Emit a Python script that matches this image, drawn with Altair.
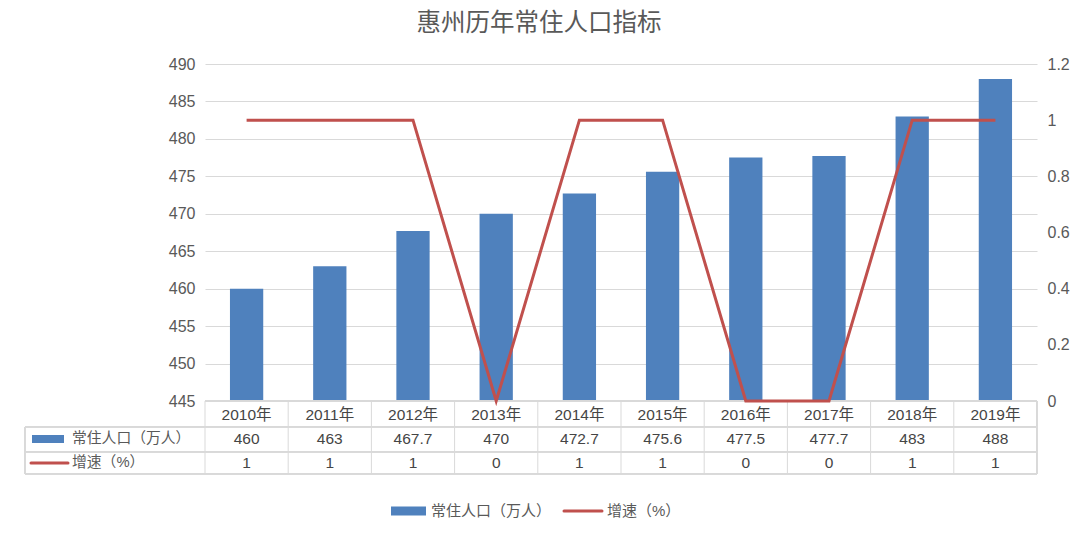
import altair as alt
import pandas as pd

# ---------------- data ----------------
years = ["2010年", "2011年", "2012年", "2013年", "2014年",
         "2015年", "2016年", "2017年", "2018年", "2019年"]
population = [460, 463, 467.7, 470, 472.7, 475.6, 477.5, 477.7, 483, 488]
growth = [1, 1, 1, 0, 1, 1, 0, 0, 1, 1]
series_names = ["常住人口（万人）", "增速（%）"]
row_names = ["年份", "常住人口（万人）", "增速（%）"]
left_ticks = [445, 450, 455, 460, 465, 470, 475, 480, 485, 490]
right_ticks = [0, 0.2, 0.4, 0.6, 0.8, 1.0, 1.2]
title_text = "惠州历年常住人口指标"

# ---------------- styles ----------------
BLUE = "#4F81BD"
RED = "#C0504D"
GRID = "#D9D9D9"
TXT = "#595959"
CELL_TXT = "#454545"
FONT = "Liberation Sans, Noto Sans CJK SC, sans-serif"
W, H = 832, 337

df = pd.DataFrame({"year": years, "pop": population, "growth": growth})

cells = []
for i, yr in enumerate(years):
    cells.append({"year": yr, "row": row_names[0], "text": yr})
    cells.append({"year": yr, "row": row_names[1], "text": f"{population[i]:g}"})
    cells.append({"year": yr, "row": row_names[2], "text": f"{growth[i]:g}"})
cells_df = pd.DataFrame(cells)
labels_df = pd.DataFrame({"row": row_names[1:]})

x_enc = alt.X("year:N", sort=years,
              scale=alt.Scale(paddingInner=0, paddingOuter=0), axis=None)
row_scale = alt.Scale(domain=row_names, type="point", padding=0, range=[351, 399])
row_y = alt.Y("row:N", scale=row_scale, axis=None)

bars = alt.Chart(df).mark_bar(color=BLUE, width=alt.RelativeBandSize(0.4)).encode(
    x=x_enc,
    y=alt.Y("pop:Q",
            scale=alt.Scale(domain=[445, 490], zero=False, nice=False),
            axis=alt.Axis(values=left_ticks, grid=True, gridColor=GRID,
                          domain=False, ticks=False, labelPadding=10,
                          labelFontSize=16, labelColor=TXT, labelFont=FONT,
                          title=None)),
    y2=alt.datum(445),
)

line = alt.Chart(df).mark_line(color=RED, strokeWidth=3).encode(
    x=x_enc,
    y=alt.Y("growth:Q",
            scale=alt.Scale(domain=[0, 1.2], nice=False),
            axis=alt.Axis(orient="right", values=right_ticks, format="~g",
                          grid=False, domain=False, ticks=False, labelPadding=10,
                          labelFontSize=16, labelColor=TXT, labelFont=FONT,
                          title=None)),
)

# ---------------- data table ----------------
cell_text = alt.Chart(cells_df).mark_text(
    baseline="middle", fontSize=15.5, color=CELL_TXT, font=FONT
).encode(x=x_enc, y=row_y, text="text:N")

vlines = alt.Chart(df).mark_rule(color=GRID, strokeWidth=1).encode(
    x=alt.X("year:N", sort=years, bandPosition=0,
            scale=alt.Scale(paddingInner=0, paddingOuter=0), axis=None),
    y=alt.value(337), y2=alt.value(410),
)
right_edge = alt.Chart(df).mark_rule(color=GRID).encode(
    x=alt.value(W), y=alt.value(337), y2=alt.value(410))
left_edge = alt.Chart(df).mark_rule(color=GRID).encode(
    x=alt.value(-180), y=alt.value(363), y2=alt.value(410))
top_line = alt.Chart(df).mark_rule(color=GRID).encode(
    x=alt.value(0), x2=alt.value(W), y=alt.value(337))
hl1 = alt.Chart(df).mark_rule(color=GRID).encode(
    x=alt.value(-180), x2=alt.value(W), y=alt.value(363))
hl2 = alt.Chart(df).mark_rule(color=GRID).encode(
    x=alt.value(-180), x2=alt.value(W), y=alt.value(388))
hl3 = alt.Chart(df).mark_rule(color=GRID).encode(
    x=alt.value(-180), x2=alt.value(W), y=alt.value(410))

row_labels = alt.Chart(labels_df).mark_text(
    align="left", baseline="middle", fontSize=14.8, color=TXT, font=FONT
).encode(x=alt.value(-133), y=row_y, text="row:N")

sym_pop = alt.Chart(labels_df).transform_filter(
    alt.datum.row == row_names[1]
).mark_rule(color=BLUE, strokeWidth=8, strokeCap="butt").encode(
    x=alt.value(-173), x2=alt.value(-141), y=row_y)
sym_gr = alt.Chart(labels_df).transform_filter(
    alt.datum.row == row_names[2]
).mark_rule(color=RED, strokeWidth=3, strokeCap="round").encode(
    x=alt.value(-174), x2=alt.value(-137), y=row_y)

# ---------------- bottom legend ----------------
leg_df = pd.DataFrame({"name": series_names})
leg_sym1 = alt.Chart(leg_df).transform_filter(alt.datum.name == series_names[0]).mark_rule(
    color=BLUE, strokeWidth=9, strokeCap="butt").encode(
    x=alt.value(186), x2=alt.value(221), y=alt.value(447))
leg_txt1 = alt.Chart(leg_df).transform_filter(alt.datum.name == series_names[0]).mark_text(
    align="left", baseline="middle", fontSize=15, color=TXT, font=FONT).encode(
    x=alt.value(226), y=alt.value(447), text="name:N")
leg_sym2 = alt.Chart(leg_df).transform_filter(alt.datum.name == series_names[1]).mark_rule(
    color=RED, strokeWidth=3, strokeCap="round").encode(
    x=alt.value(359), x2=alt.value(397), y=alt.value(447))
leg_txt2 = alt.Chart(leg_df).transform_filter(alt.datum.name == series_names[1]).mark_text(
    align="left", baseline="middle", fontSize=15, color=TXT, font=FONT).encode(
    x=alt.value(402), y=alt.value(447), text="name:N")

chart = alt.layer(
    bars, cell_text, vlines, right_edge, left_edge, top_line, hl1, hl2, hl3,
    line,
    row_labels, sym_pop, sym_gr, leg_sym1, leg_txt1, leg_sym2, leg_txt2,
).resolve_scale(y="independent").properties(
    width=W, height=H,
    title=alt.Title(title_text, fontSize=24.5, color=TXT, font=FONT,
                    fontWeight="normal", anchor="middle", frame="group",
                    dx=-82, offset=20),
    autosize=alt.AutoSizeParams(type="none"),
    padding={"left": 205, "top": 64, "right": 43, "bottom": 132},
).configure_view(stroke=None)

chart.save("out.html", embed_options={"renderer": "svg", "actions": False})
